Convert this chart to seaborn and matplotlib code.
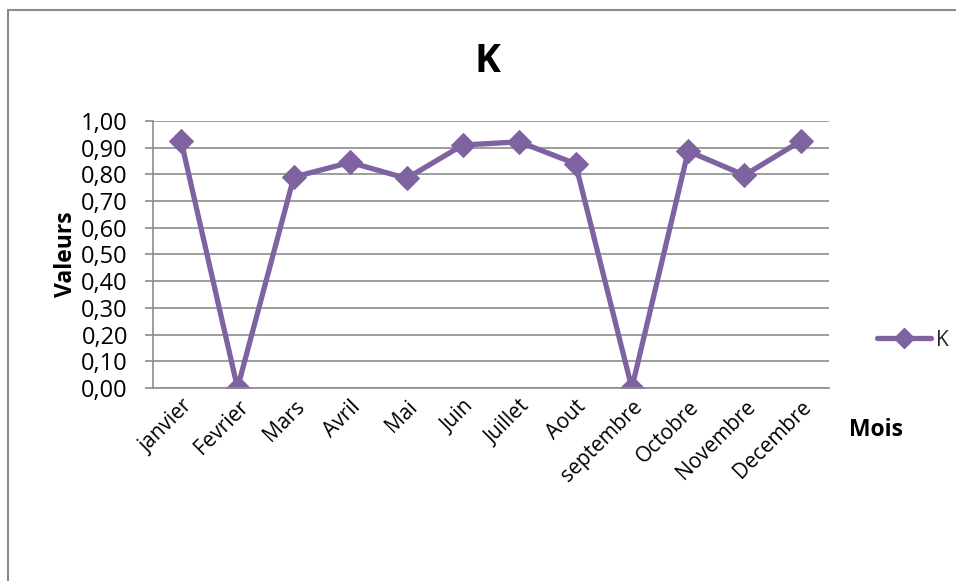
import matplotlib
matplotlib.use("Agg")
import matplotlib.pyplot as plt
import seaborn as sns
import pandas as pd
from matplotlib.lines import Line2D
from matplotlib.patches import Rectangle
from matplotlib.ticker import FuncFormatter, MultipleLocator

mois = ["janvier", "Fevrier", "Mars", "Avril", "Mai", "Juin", "Juillet",
        "Aout", "septembre", "Octobre", "Novembre", "Decembre"]
valeurs_k = [0.925, 0.00, 0.79, 0.845, 0.785, 0.91, 0.922, 0.84, 0.00, 0.887, 0.797, 0.925]
serie = "K"

sns.set_theme(style="white")
plt.rcParams["font.family"] = ["Open Sans", "DejaVu Sans"]

df = pd.DataFrame({"Mois": mois, "Valeurs": valeurs_k})
color = "#7F63A1"
grid_c = "#8C8C8C"

fig = plt.figure(figsize=(9.56, 5.81), dpi=100)
W, H = 956, 581
ax = fig.add_axes([153 / W, 1 - 388 / H, (829 - 153) / W, (388 - 121) / H])

sns.lineplot(data=df, x="Mois", y="Valeurs", sort=False, ax=ax, color=color,
             linewidth=3.8, marker="D", markersize=12, markeredgecolor=color,
             markerfacecolor=color)

ax.set_ylim(0, 1.0)
ax.set_xlim(-0.5, len(mois) - 0.5)
ax.yaxis.set_major_locator(MultipleLocator(0.1))
ax.yaxis.set_major_formatter(FuncFormatter(lambda v, p: f"{v:.2f}".replace(".", ",")))
ax.grid(axis="y", color=grid_c, linewidth=1.2)
ax.set_axisbelow(True)
for s in ["top", "right"]:
    ax.spines[s].set_visible(False)
for s in ["left", "bottom"]:
    ax.spines[s].set_color(grid_c)
    ax.spines[s].set_linewidth(1.2)

ax.tick_params(axis="y", which="major", left=True, length=6, width=1.2, color=grid_c,
               labelsize=17, labelcolor="black", pad=12)
ax.tick_params(axis="x", bottom=False, labelsize=15, labelcolor="black", pad=0)
plt.setp(ax.get_xticklabels(), rotation=45, ha="right", rotation_mode="anchor")

ax.set_xlabel("")
ax.set_ylabel("Valeurs", fontsize=16.5, fontweight="bold", color="black", labelpad=2)

fig.text(487 / W, 1 - 62 / H, serie, ha="center", va="center", fontsize=28,
         fontweight="bold", color="black")
fig.text(876 / W, 1 - 430 / H, "Mois", ha="center", va="center", fontsize=16.5,
         fontweight="bold", color="black")

handle = Line2D([], [], color=color, linewidth=3.8, marker="D", markersize=10)
fig.legend([handle], [serie], loc="center left", bbox_to_anchor=(858 / W, 1 - 340 / H),
           frameon=False, fontsize=15, handlelength=2.6, handletextpad=0.25)

fig.add_artist(Rectangle((8 / W, -0.1), 1.2, 1 - 10 / H + 0.1, transform=fig.transFigure,
                         fill=False, edgecolor="#8C8C8C", linewidth=1.5))

fig.savefig("out.png", dpi=100)
